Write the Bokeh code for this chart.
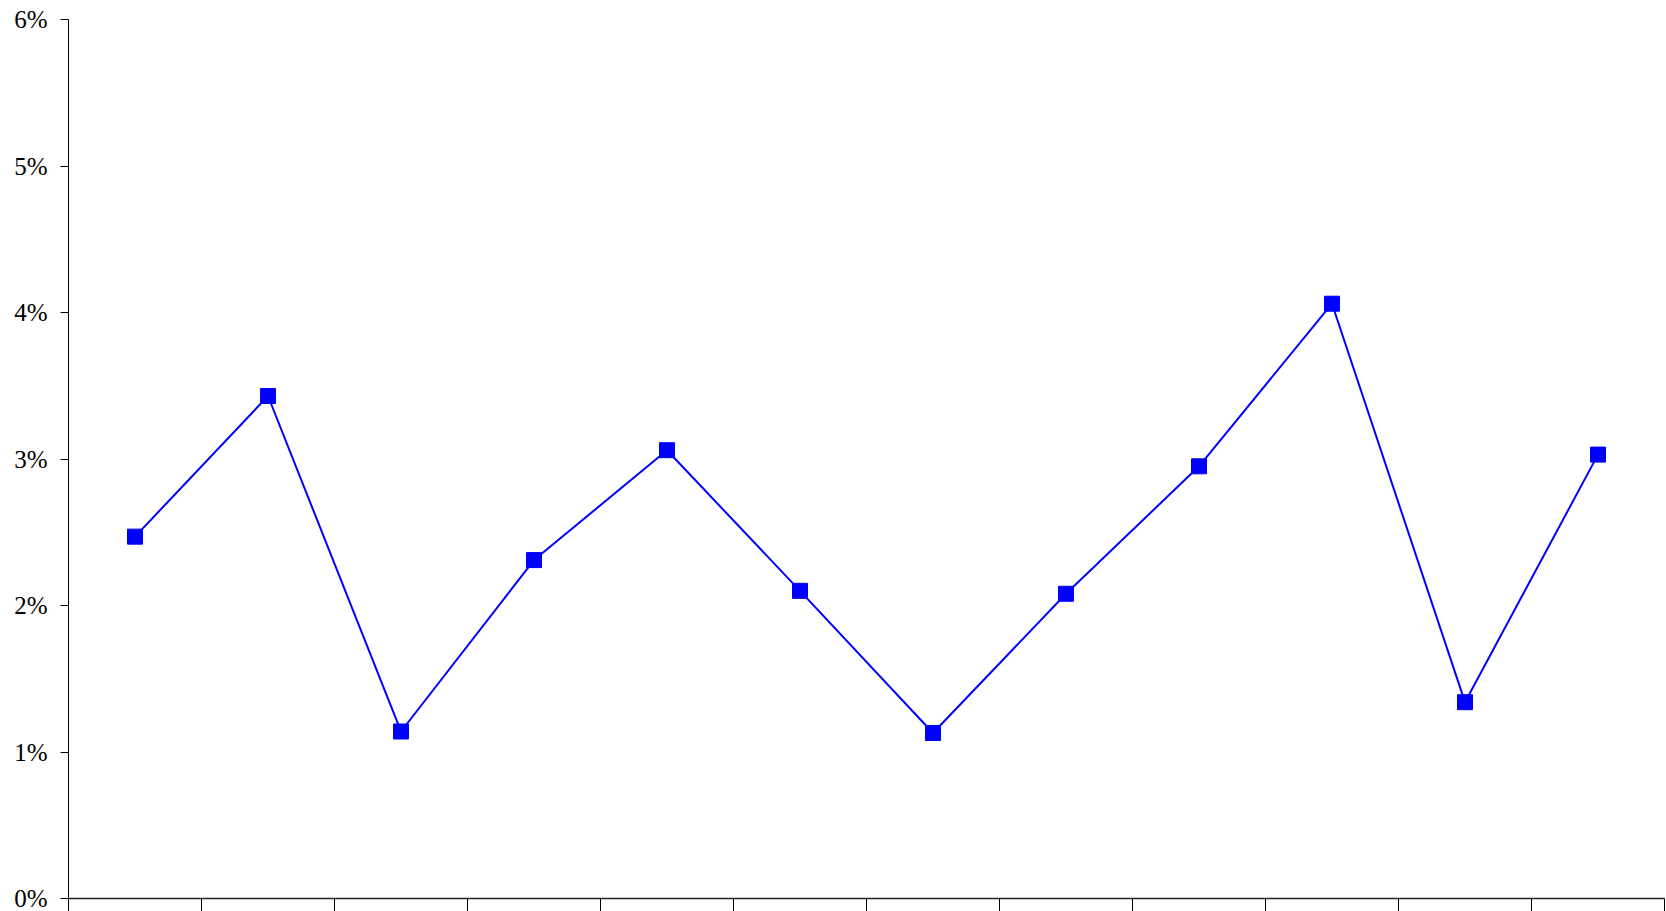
from bokeh.plotting import figure
from bokeh.models import Range1d, FixedTicker, PrintfTickFormatter
from bokeh.embed import file_html
from bokeh.resources import INLINE

categories = ["Jan", "Feb", "Mar", "Apr", "May", "Jun",
              "Jul", "Aug", "Sep", "Oct", "Nov", "Dec"]
values = [2.47, 3.43, 1.14, 2.31, 3.06, 2.10, 1.13, 2.08, 2.95, 4.06, 1.34, 3.03]
y_ticks = [0, 1, 2, 3, 4, 5, 6]

xs = list(range(1, len(categories) + 1))

p = figure(width=1666, height=958, output_backend="svg", toolbar_location=None,
           x_range=Range1d(0.5, len(categories) + 0.5), y_range=Range1d(0, 6),
           min_border_left=68, min_border_right=2, min_border_top=19, min_border_bottom=60)
p.outline_line_color = None
p.xgrid.visible = False
p.ygrid.visible = False

p.line(xs, values, line_color="#0000FF", line_width=2)
p.scatter(xs, values, marker="square", size=15, fill_color="#0000FF", line_color="#0000FF")

font = "Liberation Serif"

p.yaxis.ticker = FixedTicker(ticks=y_ticks, minor_ticks=[])
p.yaxis.formatter = PrintfTickFormatter(format="%d%%")
p.yaxis.major_tick_in = 0
p.yaxis.major_tick_out = 8
p.yaxis.major_label_standoff = 13
p.yaxis.major_label_text_font = font
p.yaxis.major_label_text_font_size = "25px"
p.yaxis.major_label_text_color = "black"
p.yaxis.axis_line_color = "black"
p.yaxis.major_tick_line_color = "black"

p.xaxis.ticker = FixedTicker(ticks=xs, minor_ticks=[x - 0.5 for x in xs] + [len(xs) + 0.5])
p.xaxis.major_label_overrides = {x: c for x, c in zip(xs, categories)}
p.xaxis.major_tick_in = 0
p.xaxis.major_tick_out = 0
p.xaxis.minor_tick_in = 0
p.xaxis.minor_tick_out = 15
p.xaxis.minor_tick_line_color = "black"
p.xaxis.major_label_standoff = -8
p.xaxis.major_label_text_font = font
p.xaxis.major_label_text_font_size = "25px"
p.xaxis.major_label_text_color = "black"
p.xaxis.axis_line_color = "#222222"
p.xaxis.axis_line_width = 1.5

open("out.html", "w").write(file_html(p, INLINE))
